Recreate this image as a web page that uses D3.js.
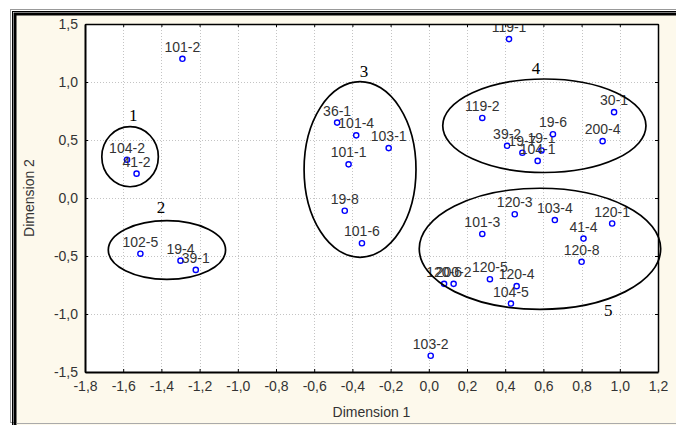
<!DOCTYPE html>
<html>
<head>
<meta charset="utf-8">
<script src="https://cdn.jsdelivr.net/npm/d3@7/dist/d3.min.js"></script>
<style>
  body { margin: 0; background: #fff; }
  svg { display: block; font-family: "Liberation Sans", Arial, sans-serif; }
</style>
</head>
<body>
<div id="chart"></div>
<script>
// point labels and coordinates (Dimension 1, Dimension 2)
var labels = ["101-2", "104-2", "41-2", "102-5", "19-4", "39-1",
  "36-1", "101-4", "103-1", "101-1", "19-8", "101-6", "103-2",
  "119-1", "119-2", "39-2", "19-7", "19-1", "104-1", "19-6", "200-4", "30-1",
  "120-3", "103-4", "120-1", "101-3", "41-4", "120-8", "120-5", "120-4", "104-5",
  "120-6", "200-2"];
var dim1 = [-1.29, -1.58, -1.53, -1.51, -1.30, -1.22,
  -0.48, -0.38, -0.21, -0.42, -0.44, -0.35, 0.01,
  0.42, 0.28, 0.41, 0.49, 0.59, 0.57, 0.65, 0.91, 0.97,
  0.45, 0.66, 0.96, 0.28, 0.81, 0.80, 0.32, 0.46, 0.43,
  0.08, 0.13];
var dim2 = [1.20, 0.33, 0.21, -0.48, -0.54, -0.62,
  0.65, 0.54, 0.43, 0.29, -0.11, -0.39, -1.36,
  1.37, 0.69, 0.45, 0.39, 0.41, 0.32, 0.55, 0.49, 0.74,
  -0.14, -0.19, -0.22, -0.31, -0.35, -0.55, -0.70, -0.76, -0.91,
  -0.74, -0.74];

// cluster ellipses, in data units
var clusterNames = ["1", "2", "3", "4", "5"];
var clusterCx = [-1.564, -1.371, -0.360, 0.605, 0.582];
var clusterCy = [0.356, -0.448, 0.246, 0.623, -0.438];
var clusterRx = [0.148, 0.307, 0.293, 0.532, 0.632];
var clusterRy = [0.259, 0.253, 0.757, 0.403, 0.522];
var clusterLabelX = [-1.547, -1.402, -0.339, 0.561, 0.940];
var clusterLabelY = [0.666, -0.132, 1.04, 1.069, -1.017];

var xTicks = [-1.8, -1.6, -1.4, -1.2, -1.0, -0.8, -0.6, -0.4, -0.2, 0.0, 0.2, 0.4, 0.6, 0.8, 1.0, 1.2];
var yTicks = [-1.5, -1.0, -0.5, 0.0, 0.5, 1.0, 1.5];

var svgWidth = 676, svgHeight = 425;
var plot = { left: 85, right: 658, top: 24, bottom: 372 };

var svg = d3.select("#chart").append("svg")
  .attr("width", svgWidth)
  .attr("height", svgHeight);

// outer frame and cream background
svg.append("rect").attr("x", 10.5).attr("y", 9.5).attr("width", 700).attr("height", 413)
  .attr("fill", "none").attr("stroke", "#999").attr("stroke-width", 1);
svg.append("rect").attr("x", 12.5).attr("y", 11.5).attr("width", 700).attr("height", 420)
  .attr("fill", "none").attr("stroke", "#000").attr("stroke-width", 1);
svg.append("rect").attr("x", 15).attr("y", 14).attr("width", 700).attr("height", 420)
  .attr("fill", "#fdf9ec").attr("stroke", "#000").attr("stroke-width", 3);
svg.append("line").attr("x1", 16.5).attr("x2", 676).attr("y1", 423.5).attr("y2", 423.5)
  .attr("stroke", "#aaa");

var x = d3.scaleLinear().domain([-1.8, 1.2]).range([plot.left, plot.right]);
var y = d3.scaleLinear().domain([-1.5, 1.5]).range([plot.bottom, plot.top]);

var fmt = d3.formatLocale({ decimal: ",", thousands: ".", grouping: [3], currency: ["", ""], minus: "-" }).format(".1f");

svg.append("clipPath").attr("id", "plotClip")
  .append("rect")
  .attr("x", plot.left).attr("y", plot.top)
  .attr("width", plot.right - plot.left).attr("height", plot.bottom - plot.top);

svg.append("rect")
  .attr("x", plot.left).attr("y", plot.top)
  .attr("width", plot.right - plot.left).attr("height", plot.bottom - plot.top)
  .attr("fill", "#fff");

// dotted grid
var grid = svg.append("g").attr("stroke", "#c4c4c4").attr("stroke-dasharray", "1,2");
grid.selectAll(".gx").data(xTicks.slice(1, -1)).enter().append("line")
  .attr("x1", d => Math.round(x(d)) + 0.5).attr("x2", d => Math.round(x(d)) + 0.5)
  .attr("y1", plot.top).attr("y2", plot.bottom);
grid.selectAll(".gy").data(yTicks.slice(1, -1)).enter().append("line")
  .attr("y1", d => Math.round(y(d)) + 0.5).attr("y2", d => Math.round(y(d)) + 0.5)
  .attr("x1", plot.left).attr("x2", plot.right);

// points (labels clipped to plot area)
var points = labels.map((l, i) => ({ label: l, d1: dim1[i], d2: dim2[i] }));
var pg = svg.append("g").attr("clip-path", "url(#plotClip)")
  .selectAll(".pt").data(points).enter().append("g")
  .attr("transform", d => `translate(${x(d.d1)}, ${y(d.d2)})`);
pg.append("text")
  .attr("y", -7)
  .attr("text-anchor", "middle").attr("font-size", 14).attr("fill", "#333")
  .text(d => d.label);
pg.append("circle")
  .attr("r", 2.6)
  .attr("fill", "#fff").attr("stroke", "#0000ff").attr("stroke-width", 1.4);

// axes, ticks pointing inward
function styleAxis(g, w) {
  g.select(".domain").attr("stroke", "#000").attr("stroke-width", w);
  g.selectAll(".tick line").attr("stroke", "#000");
  g.selectAll(".tick text").attr("fill", "#333").attr("font-size", 14)
    .attr("font-family", "'Liberation Sans', Arial, sans-serif");
}

svg.append("g")
  .attr("transform", `translate(0, ${plot.top})`)
  .call(d3.axisTop(x).tickValues(xTicks).tickSize(-3).tickSizeOuter(0).tickFormat(""))
  .call(g => styleAxis(g, 1.5));
svg.append("g")
  .attr("transform", `translate(${plot.right}, 0)`)
  .call(d3.axisRight(y).tickValues(yTicks).tickSize(-3).tickSizeOuter(0).tickFormat(""))
  .call(g => styleAxis(g, 1.5));
svg.append("g")
  .attr("transform", `translate(0, ${plot.bottom})`)
  .call(d3.axisBottom(x).tickValues(xTicks).tickSize(-3).tickSizeOuter(0).tickPadding(9).tickFormat(fmt))
  .call(g => styleAxis(g, 2));
svg.append("g")
  .attr("transform", `translate(${plot.left}, 0)`)
  .call(d3.axisLeft(y).tickValues(yTicks).tickSize(-3).tickSizeOuter(0).tickPadding(7).tickFormat(fmt))
  .call(g => styleAxis(g, 2));

// axis titles
svg.append("text")
  .attr("x", (plot.left + plot.right) / 2).attr("y", 416.5)
  .attr("text-anchor", "middle").attr("font-size", 14).attr("fill", "#333")
  .text("Dimension 1");
svg.append("text")
  .attr("transform", `translate(34, ${(plot.top + plot.bottom) / 2}) rotate(-90)`)
  .attr("text-anchor", "middle").attr("font-size", 14).attr("fill", "#333")
  .text("Dimension 2");

// cluster ellipses
var clusters = clusterNames.map((n, i) => ({
  name: n, cx: clusterCx[i], cy: clusterCy[i], rx: clusterRx[i], ry: clusterRy[i],
  lx: clusterLabelX[i], ly: clusterLabelY[i]
}));
svg.selectAll(".cluster").data(clusters).enter().append("ellipse")
  .attr("cx", d => x(d.cx)).attr("cy", d => y(d.cy))
  .attr("rx", d => x(d.cx + d.rx) - x(d.cx))
  .attr("ry", d => y(d.cy) - y(d.cy + d.ry))
  .attr("fill", "none").attr("stroke", "#000").attr("stroke-width", 1.7);
svg.selectAll(".clabel").data(clusters).enter().append("text")
  .attr("x", d => x(d.lx)).attr("y", d => y(d.ly))
  .attr("text-anchor", "middle")
  .attr("font-family", "'Liberation Serif', 'Times New Roman', serif")
  .attr("font-size", 17).attr("fill", "#000")
  .text(d => d.name);
</script>
</body>
</html>
